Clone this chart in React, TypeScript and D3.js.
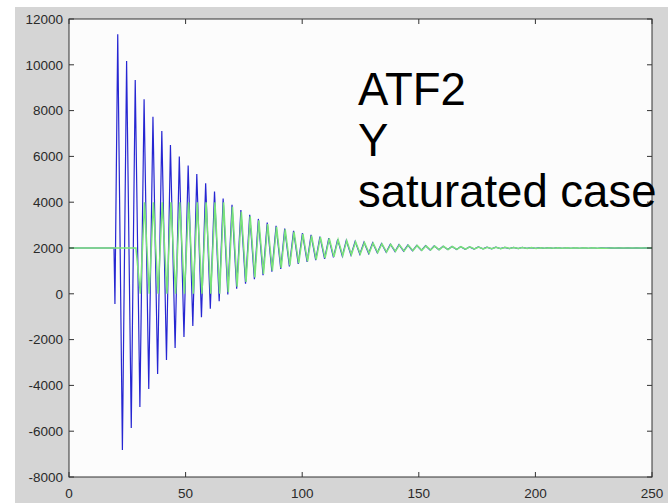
import React from "react";
import * as d3 from "d3";

// ---------- data ----------
const xTicks = [0, 50, 100, 150, 200, 250];
const yTicks = [-8000, -6000, -4000, -2000, 0, 2000, 4000, 6000, 8000, 10000, 12000];
const titleLines = ["ATF2", "Y", "saturated case"];

// blue: lead-in before the oscillation
const blueLeadTime = [0, 19.3, 19.7];
const blueLeadValue = [2000, 2000, -450];
const blueTailTime = [250];
const blueTailValue = [2000];

const bluePeakTime = [20.9, 24.7, 28.4, 32.2, 36.0, 39.8, 43.5, 47.3, 51.1, 54.8, 58.6, 62.4, 66.1, 69.9, 73.7, 77.5, 81.2, 85.0, 88.8, 92.5, 96.3, 100.1, 103.8, 107.6, 111.4, 115.2, 118.9, 122.7, 126.5, 130.2, 134.0, 137.8, 141.5, 145.3, 149.1, 152.9, 156.6, 160.4, 164.2, 167.9, 171.7, 175.5, 179.2, 183.0, 186.8, 190.6, 194.3, 198.1, 201.9, 205.6, 209.4, 213.2, 216.9, 220.7, 224.5, 228.3, 232.0, 235.8, 239.6, 243.3, 247.1];
const bluePeakValue = [11330, 10170, 9340, 8500, 7730, 7110, 6500, 5990, 5600, 5230, 4830, 4470, 4160, 3890, 3660, 3450, 3270, 3110, 2970, 2850, 2745, 2650, 2570, 2500, 2435, 2380, 2335, 2290, 2255, 2225, 2195, 2170, 2150, 2130, 2115, 2100, 2090, 2075, 2065, 2060, 2050, 2045, 2040, 2035, 2030, 2025, 2025, 2020, 2020, 2015, 2015, 2010, 2010, 2010, 2010, 2005, 2005, 2005, 2005, 2005, 2005];
const blueTroughTime = [22.9, 26.7, 30.4, 34.2, 38.0, 41.8, 45.5, 49.3, 53.1, 56.8, 60.6, 64.4, 68.1, 71.9, 75.7, 79.5, 83.2, 87.0, 90.8, 94.5, 98.3, 102.1, 105.8, 109.6, 113.4, 117.2, 120.9, 124.7, 128.5, 132.2, 136.0, 139.8, 143.5, 147.3, 151.1, 154.9, 158.6, 162.4, 166.2, 169.9, 173.7, 177.5, 181.2, 185.0, 188.8, 192.6, 196.3, 200.1, 203.9, 207.6, 211.4, 215.2, 218.9, 222.7, 226.5, 230.3, 234.0, 237.8, 241.6, 245.3, 249.1];
const blueTroughValue = [-6820, -5860, -4940, -4160, -3500, -2890, -2370, -1890, -1400, -1020, -650, -320, -30, 220, 440, 640, 810, 960, 1090, 1200, 1300, 1390, 1465, 1530, 1590, 1645, 1690, 1730, 1760, 1790, 1815, 1840, 1860, 1880, 1895, 1905, 1920, 1930, 1935, 1945, 1950, 1960, 1965, 1970, 1970, 1975, 1980, 1980, 1985, 1985, 1990, 1990, 1990, 1990, 1990, 1995, 1995, 1995, 1995, 1995, 1995];

// green: flat until the oscillation starts, saturated at 0 / 4000
const greenLeadTime = [0, 28.7];
const greenLeadValue = [2000, 2000];
const greenTailTime = [250];
const greenTailValue = [2000];

const greenPeakTime = [32.4, 36.2, 40.0, 43.7, 47.5, 51.3, 55.0, 58.8, 62.6, 66.3, 70.1, 73.9, 77.7, 81.4, 85.2, 89.0, 92.7, 96.5, 100.3, 104.0, 107.8, 111.6, 115.4, 119.1, 122.9, 126.7, 130.4, 134.2, 138.0, 141.7, 145.5, 149.3, 153.1, 156.8, 160.6, 164.4, 168.1, 171.9, 175.7, 179.4, 183.2, 187.0, 190.8, 194.5, 198.3, 202.1, 205.8, 209.6, 213.4, 217.1, 220.9, 224.7, 228.5, 232.2, 236.0, 239.8, 243.5, 247.3];
const greenPeakValue = [4000, 4000, 4000, 4000, 4000, 4000, 4000, 4000, 4000, 4000, 3800, 3580, 3380, 3210, 3050, 2920, 2810, 2710, 2620, 2540, 2475, 2415, 2360, 2320, 2275, 2240, 2215, 2185, 2160, 2140, 2125, 2110, 2095, 2085, 2075, 2065, 2055, 2050, 2045, 2035, 2030, 2030, 2025, 2020, 2020, 2015, 2015, 2010, 2010, 2010, 2010, 2010, 2005, 2005, 2005, 2005, 2005, 2005];
const greenTroughTime = [30.6, 34.4, 38.2, 42.0, 45.7, 49.5, 53.3, 57.0, 60.8, 64.6, 68.3, 72.1, 75.9, 79.7, 83.4, 87.2, 91.0, 94.7, 98.5, 102.3, 106.0, 109.8, 113.6, 117.4, 121.1, 124.9, 128.7, 132.4, 136.2, 140.0, 143.7, 147.5, 151.3, 155.1, 158.8, 162.6, 166.4, 170.1, 173.9, 177.7, 181.4, 185.2, 189.0, 192.8, 196.5, 200.3, 204.1, 207.8, 211.6, 215.4, 219.1, 222.9, 226.7, 230.5, 234.2, 238.0, 241.8, 245.5, 249.3];
const greenTroughValue = [0, 0, 0, 0, 0, 0, 0, 0, 0, 0, 70, 310, 520, 710, 870, 1010, 1135, 1240, 1335, 1420, 1490, 1555, 1610, 1665, 1705, 1740, 1770, 1800, 1825, 1850, 1865, 1885, 1900, 1910, 1920, 1930, 1940, 1950, 1955, 1960, 1965, 1970, 1975, 1975, 1980, 1980, 1985, 1985, 1990, 1990, 1990, 1990, 1990, 1990, 1995, 1995, 1995, 1995, 1995];

type Pt = { t: number; v: number };
function series(groups: [number[], number[]][]): Pt[] {
  const pts: Pt[] = [];
  groups.forEach(([ts, vs]) => ts.forEach((t, i) => pts.push({ t, v: vs[i] })));
  return pts.sort((a, b) => a.t - b.t);
}

const blue = series([
  [blueLeadTime, blueLeadValue],
  [bluePeakTime, bluePeakValue],
  [blueTroughTime, blueTroughValue],
  [blueTailTime, blueTailValue],
]);
const green = series([
  [greenLeadTime, greenLeadValue],
  [greenPeakTime, greenPeakValue],
  [greenTroughTime, greenTroughValue],
  [greenTailTime, greenTailValue],
]);

// ---------- layout ----------
const W = 668;
const H = 503;
const plot = { left: 69, top: 19, right: 652, bottom: 477 };

export default function App() {
  const x = d3.scaleLinear().domain([0, 250]).range([plot.left, plot.right]);
  const y = d3.scaleLinear().domain([-8000, 12000]).range([plot.bottom, plot.top]);
  const line = d3
    .line<Pt>()
    .x((d) => x(d.t))
    .y((d) => y(d.v));
  const tick = 5;
  const font = "'Liberation Sans', Arial, Helvetica, sans-serif";

  return (
    <svg
      width={W}
      height={H}
      style={{ position: "absolute", left: 0, top: 0, display: "block" }}
    >
      <rect x={0} y={0} width={W} height={H} fill="#ffffff" />
      <rect x={15} y={7} width={W - 15} height={H - 7} fill="#d5d5d5" />
      <rect
        x={plot.left}
        y={plot.top}
        width={plot.right - plot.left}
        height={plot.bottom - plot.top}
        fill="#fcfcfc"
      />
      <defs>
        <clipPath id="pc">
          <rect
            x={plot.left}
            y={plot.top}
            width={plot.right - plot.left}
            height={plot.bottom - plot.top}
          />
        </clipPath>
      </defs>
      <g clipPath="url(#pc)">
        <path d={line(blue) || ""} fill="none" stroke="#2626d2" strokeWidth={1.2} />
        <path d={line(green) || ""} fill="none" stroke="#7ae47a" strokeWidth={1.5} />
      </g>
      {/* axes box */}
      <rect
        x={plot.left}
        y={plot.top}
        width={plot.right - plot.left}
        height={plot.bottom - plot.top}
        fill="none"
        stroke="#333"
        strokeWidth={1}
      />
      {/* y ticks */}
      {yTicks.map((v) => (
        <g key={"y" + v}>
          <line x1={plot.left} x2={plot.left + tick} y1={y(v)} y2={y(v)} stroke="#333" />
          <line x1={plot.right} x2={plot.right - tick} y1={y(v)} y2={y(v)} stroke="#333" />
          <text
            x={plot.left - 6}
            y={y(v)}
            dy="0.35em"
            textAnchor="end"
            fontFamily={font}
            fontSize={13.5}
            fill="#2a2a2a"
          >
            {v}
          </text>
        </g>
      ))}
      {/* x ticks */}
      {xTicks.map((v) => (
        <g key={"x" + v}>
          <line x1={x(v)} x2={x(v)} y1={plot.bottom} y2={plot.bottom - tick} stroke="#333" />
          <line x1={x(v)} x2={x(v)} y1={plot.top} y2={plot.top + tick} stroke="#333" />
          <text
            x={x(v)}
            y={plot.bottom + 21}
            textAnchor="middle"
            fontFamily={font}
            fontSize={13.5}
            fill="#2a2a2a"
          >
            {v}
          </text>
        </g>
      ))}
      {/* annotation */}
      {titleLines.map((s, i) => (
        <text
          key={s}
          x={358}
          y={105 + i * 51}
          fontFamily={font}
          fontSize={45.5}
          fill="#000"
        >
          {s}
        </text>
      ))}
    </svg>
  );
}
